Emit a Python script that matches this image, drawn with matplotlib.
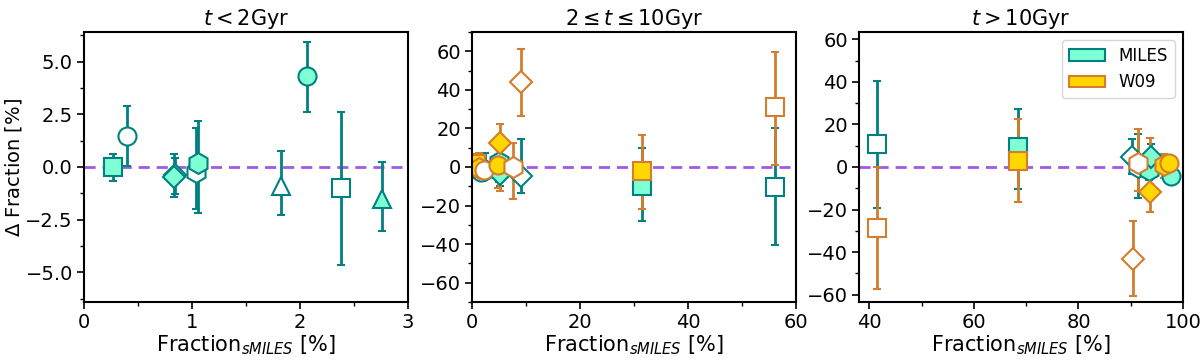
import numpy as np
import matplotlib
matplotlib.use('Agg')
import matplotlib.pyplot as plt
from matplotlib.patches import Patch
from matplotlib.ticker import MultipleLocator

plt.rcParams['font.family'] = ['DejaVu Sans']
plt.rcParams['mathtext.fontset'] = 'dejavusans'

# colours
miles_edge, miles_face = 'teal', 'aquamarine'
w09_edge, w09_face = '#d47d2c', 'gold'
line_col = '#a05ae6'

titles = [r'$t<2$Gyr', r'$2\leq t\leq 10$Gyr', r'$t>10$Gyr']
xlims = [(0, 3), (0, 60), (38, 100)]
ylims = [(-6.4, 6.4), (-70, 70), (-63.5, 63.5)]

# panel 1, t < 2 Gyr (MILES only)
p1_miles_x = [0.266, 0.395, 0.84, 0.833, 1.04, 1.053, 1.824, 2.062, 2.377, 2.756]
p1_miles_y = [0.0, 1.49, -0.4, -0.46, -0.22, 0.2, -0.9, 4.29, -1.01, -1.53]
p1_miles_lo = [-0.66, 0.06, -1.3, -1.41, -2.0, -2.2, -2.28, 2.63, -4.65, -3.04]
p1_miles_hi = [0.62, 2.91, 0.45, 0.6, 1.87, 2.2, 0.76, 5.92, 2.6, 0.22]
p1_miles_mk = ['s', 'o', 'D', 'D', 'h', 'h', '^', 'o', 's', '^']
p1_miles_fill = [1, 0, 0, 1, 0, 1, 0, 1, 0, 1]

# panel 2, 2 <= t <= 10 Gyr
p2_miles_x = [0.8, 1.7, 2.5, 5.0, 5.2, 9.0, 31.4, 56.1]
p2_miles_y = [-1.0, -2.4, -1.5, 2.8, -3.6, -4.5, -9.7, -10.2]
p2_miles_lo = [-3.5, -4.5, -5.0, -8.0, -10.0, -13.4, -28.0, -40.6]
p2_miles_hi = [2.5, 4.0, 7.0, 6.0, 12.0, 14.5, 10.0, 20.4]
p2_miles_mk = ['s', 'o', 'h', 'h', 'D', 'D', 's', 's']
p2_miles_fill = [1, 0, 0, 1, 1, 0, 1, 0]

p2_w09_x = [0.8, 1.3, 2.3, 4.8, 5.2, 7.6, 9.07, 31.4, 56.1]
p2_w09_y = [1.5, -0.5, -1.5, 1.0, 12.3, 0.0, 43.9, -2.2, 30.9]
p2_w09_lo = [-2.5, -4.0, -4.5, -11.0, -12.3, -16.5, 26.5, -22.0, 1.0]
p2_w09_hi = [6.5, 7.0, 3.0, 13.5, 22.2, 12.5, 61.3, 16.5, 59.7]
p2_w09_mk = ['s', 'h', 'o', 'o', 'D', 'h', 'D', 's', 's']
p2_w09_fill = [1, 1, 0, 1, 1, 0, 0, 1, 0]

# panel 3, t > 10 Gyr
p3_miles_x = [41.44, 68.45, 90.2, 91.4, 93.5, 93.9, 97.7]
p3_miles_y = [10.8, 9.5, 4.8, 0.0, -1.5, 4.5, -4.1]
p3_miles_lo = [-19.1, -10.5, -3.5, -14.7, -6.0, -3.0, -8.0]
p3_miles_hi = [40.5, 27.5, 13.4, 15.6, 4.0, 10.6, 3.3]
p3_miles_mk = ['s', 's', 'D', 'h', 'h', 'D', 'o']
p3_miles_fill = [0, 1, 0, 0, 1, 1, 1]

p3_w09_x = [41.44, 68.45, 90.4, 91.4, 93.7, 96.3, 97.3]
p3_w09_y = [-28.7, 3.0, -43.3, 2.0, -11.6, 1.0, 1.7]
p3_w09_lo = [-57.3, -16.3, -60.5, -11.3, -21.4, -5.0, -3.0]
p3_w09_hi = [0.1, 22.4, -25.6, 18.1, 13.7, 6.0, 5.5]
p3_w09_mk = ['s', 's', 'D', 'h', 'D', 'h', 'o']
p3_w09_fill = [0, 1, 0, 0, 1, 1, 1]

panels = [
    [(p1_miles_x, p1_miles_y, p1_miles_lo, p1_miles_hi, p1_miles_mk, p1_miles_fill, miles_edge, miles_face)],
    [(p2_miles_x, p2_miles_y, p2_miles_lo, p2_miles_hi, p2_miles_mk, p2_miles_fill, miles_edge, miles_face),
     (p2_w09_x, p2_w09_y, p2_w09_lo, p2_w09_hi, p2_w09_mk, p2_w09_fill, w09_edge, w09_face)],
    [(p3_miles_x, p3_miles_y, p3_miles_lo, p3_miles_hi, p3_miles_mk, p3_miles_fill, miles_edge, miles_face),
     (p3_w09_x, p3_w09_y, p3_w09_lo, p3_w09_hi, p3_w09_mk, p3_w09_fill, w09_edge, w09_face)],
]
msize = {'s': 12.5, 'o': 13, 'D': 11.5, 'h': 15, '^': 13}

fig = plt.figure(figsize=(12, 3.61), dpi=100)
lefts = [0.07, 0.3933, 0.7158]
axes = [fig.add_axes([l, 0.1634, 0.27, 0.748]) for l in lefts]

xmajor = [1, 20, 20]
xminor = [0.5, 10, 10]
ymajor = [2.5, 20, 20]
yminor = [1.25, 10, 10]

for i, ax in enumerate(axes):
    ax.axhline(0, color=line_col, ls='--', lw=2, dashes=(4, 2.5), zorder=1)
    for x, y, lo, hi, mk, fill, ec, fc in panels[i]:
        for j in range(len(x)):
            yerr = [[y[j] - lo[j]], [hi[j] - y[j]]]
            ax.errorbar(x[j], y[j], yerr=yerr, fmt=mk[j], ms=msize[mk[j]],
                        mfc=fc if fill[j] else 'white', mec=ec, mew=1.5,
                        ecolor=ec, elinewidth=2, capsize=3, capthick=1.5,
                        zorder=2)
    ax.set_xlim(xlims[i])
    ax.set_ylim(ylims[i])
    ax.xaxis.set_major_locator(MultipleLocator(xmajor[i]))
    ax.xaxis.set_minor_locator(MultipleLocator(xminor[i]))
    ax.yaxis.set_major_locator(MultipleLocator(ymajor[i]))
    ax.yaxis.set_minor_locator(MultipleLocator(yminor[i]))
    ax.tick_params(labelsize=14, width=1.2, length=5, pad=3)
    ax.tick_params(which='minor', width=1, length=3)
    for s in ax.spines.values():
        s.set_linewidth(1.5)
    ax.set_title(titles[i], fontsize=15, pad=5)
    ax.set_xlabel(r'Fraction$_{sMILES}$ [%]', fontsize=15, labelpad=1)

axes[0].set_ylabel(r'$\Delta$ Fraction [%]', fontsize=14, labelpad=1)

handles = [Patch(facecolor=miles_face, edgecolor=miles_edge, lw=1.5, label='MILES'),
           Patch(facecolor=w09_face, edgecolor=w09_edge, lw=1.5, label='W09')]
axes[2].legend(handles=handles, loc='upper right', fontsize=12,
               handlelength=2.2, handleheight=0.7)

fig.savefig('out.png', dpi=100)
